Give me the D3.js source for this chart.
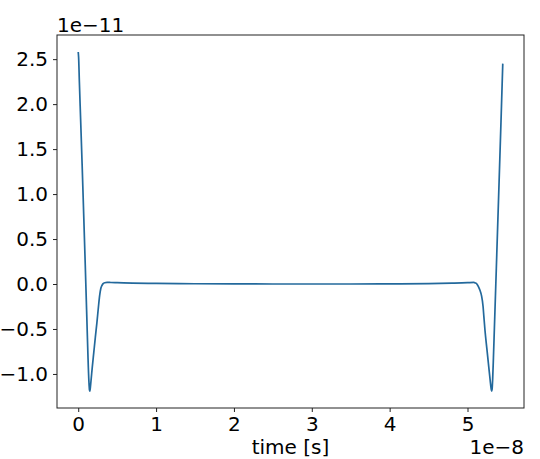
<!DOCTYPE html>
<html>
<head>
<meta charset="utf-8">
<script src="https://cdn.jsdelivr.net/npm/d3@7"></script>
<style>
  html, body { margin: 0; padding: 0; background: #fff; }
  svg { display: block; font-family: "DejaVu Sans", sans-serif; }
</style>
</head>
<body>
<svg id="chart" width="540" height="459"></svg>
<script>
// time in units of 1e-8 s, signal in units of 1e-11
const timeE8 = [
  0, 0.005, 0.015, 0.03, 0.05, 0.07, 0.09, 0.11, 0.125, 0.137, 0.145, 0.15, 0.157, 0.168,
  0.18, 0.20, 0.22, 0.24, 0.26, 0.275, 0.29, 0.30, 0.31, 0.32, 0.34, 0.37, 0.42, 0.5,
  0.7, 1.0, 1.5, 2.0, 2.5, 3.0, 3.5, 4.0, 4.5, 4.8, 5.0, 5.08,
  5.10, 5.12, 5.14, 5.16, 5.18, 5.20, 5.21, 5.225, 5.25, 5.268, 5.29, 5.303,
  5.31, 5.316, 5.323, 5.333, 5.345, 5.37, 5.40, 5.43, 5.453
];
const valueE11 = [
  2.58, 2.52, 2.24, 1.85, 1.33, 0.78, 0.22, -0.36, -0.80, -1.08, -1.18, -1.19, -1.14, -1.04,
  -0.93, -0.76, -0.59, -0.43, -0.25, -0.13, -0.05, -0.025, -0.008, 0.004, 0.014, 0.018, 0.017, 0.015,
  0.01, 0.006, 0.003, 0.001, 0.0, 0.0, 0.0, 0.002, 0.005, 0.01, 0.015, 0.018,
  0.012, 0.0, -0.03, -0.07, -0.13, -0.25, -0.36, -0.52, -0.73, -0.88, -1.06, -1.16,
  -1.19, -1.17, -1.06, -0.82, -0.50, 0.17, 0.98, 1.80, 2.45
];
const xTicks = [0, 1, 2, 3, 4, 5];
const yTicks = [-1.0, -0.5, 0.0, 0.5, 1.0, 1.5, 2.0, 2.5];
const xLabel = "time [s]";
const xOffsetLabel = "1e\u22128";
const yOffsetLabel = "1e\u221211";

const svg = d3.select("#chart");
const mLeft = 57, mRight = 524, mTop = 35, mBottom = 408;

const xMin = d3.min(timeE8), xMax = d3.max(timeE8);
const yMin = d3.min(valueE11), yMax = d3.max(valueE11);
const xPad = (xMax - xMin) * 0.05, yPad = (yMax - yMin) * 0.05;

const x = d3.scaleLinear().domain([xMin - xPad, xMax + xPad]).range([mLeft, mRight]);
const y = d3.scaleLinear().domain([yMin - yPad, yMax + yPad]).range([mBottom, mTop]);

const fontSize = 20;

// line
const data = timeE8.map((t, i) => [t, valueE11[i]]);
svg.append("path")
  .datum(data)
  .attr("fill", "none")
  .attr("stroke", "#23699c")
  .attr("stroke-width", 1.7)
  .attr("stroke-linejoin", "round")
  .attr("d", d3.line().x(d => x(d[0])).y(d => y(d[1])).curve(d3.curveMonotoneX));

// frame
svg.append("rect")
  .attr("x", mLeft).attr("y", mTop)
  .attr("width", mRight - mLeft).attr("height", mBottom - mTop)
  .attr("fill", "none").attr("stroke", "#222").attr("stroke-width", 1);

// x axis
const xAxis = d3.axisBottom(x).tickValues(xTicks).tickFormat(d3.format("d"))
  .tickSize(4).tickPadding(5);
const gx = svg.append("g").attr("transform", `translate(0,${mBottom})`).call(xAxis);
gx.select(".domain").remove();
gx.selectAll("line").attr("stroke", "#222");
gx.selectAll("text").attr("font-size", fontSize).attr("fill", "#000")
  .attr("font-family", "DejaVu Sans");

// y axis
const yAxis = d3.axisLeft(y).tickValues(yTicks).tickFormat(d3.format(".1f"))
  .tickSize(4).tickPadding(5);
const gy = svg.append("g").attr("transform", `translate(${mLeft},0)`).call(yAxis);
gy.select(".domain").remove();
gy.selectAll("line").attr("stroke", "#222");
gy.selectAll("text").attr("font-size", fontSize).attr("fill", "#000")
  .attr("font-family", "DejaVu Sans");

// labels
svg.append("text").attr("x", (mLeft + mRight) / 2).attr("y", 454)
  .attr("text-anchor", "middle").attr("font-size", fontSize).attr("fill", "#000")
  .text(xLabel);
svg.append("text").attr("x", mRight).attr("y", 454)
  .attr("text-anchor", "end").attr("font-size", fontSize).attr("fill", "#000")
  .text(xOffsetLabel);
svg.append("text").attr("x", mLeft).attr("y", 32)
  .attr("text-anchor", "start").attr("font-size", fontSize).attr("fill", "#000")
  .text(yOffsetLabel);
</script>
</body>
</html>
